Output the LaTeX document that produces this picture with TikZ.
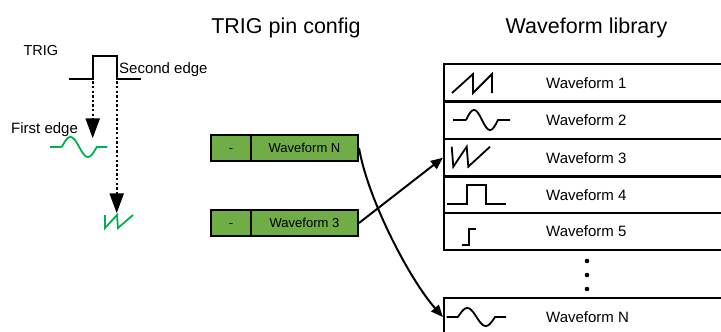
\documentclass[tikz,border=0pt]{standalone}
\usepackage{fontspec}
\setmainfont{Liberation Sans}
\usetikzlibrary{arrows.meta}
\definecolor{boxgreen}{RGB}{112,173,71}
\definecolor{wavegreen}{RGB}{0,176,80}
\tikzset{
  px/.style={x=1pt,y=-1pt},
  title/.style={font=\fontsize{21.5}{24}\selectfont, anchor=base, inner sep=0pt},
  small/.style={font=\fontsize{15}{18}\selectfont, anchor=base west, inner sep=0pt},
  libtext/.style={font=\fontsize{15}{18}\selectfont, anchor=base west, inner sep=0pt},
  boxtext/.style={font=\fontsize{13}{15}\selectfont},
  gcell/.style={draw=black, line width=2pt, fill=boxgreen, minimum height=26pt, inner sep=0pt, boxtext},
  librow/.style={draw=black, line width=2.2pt, minimum width=300pt, inner sep=0pt},
  icon/.style={draw=black, line width=1.8pt, line join=miter},
  gwave/.style={draw=wavegreen, line width=1.8pt},
  conn/.style={draw=black, line width=2pt, -{Triangle[length=12pt,width=10pt]}},
  dotconn/.style={draw=black, line width=2.4pt, dash pattern=on 2.4pt off 2.2pt, -{Triangle[length=20pt,width=14pt,sep=0pt]}},
}
\begin{document}
\begin{tikzpicture}[px]
\useasboundingbox (0,0) rectangle (721,332);
\clip (0,0) rectangle (721,332);

% titles
\node[title] (t1) at (286,33) {TRIG pin config};
\node[title] (t2) at (586.5,33) {Waveform library};

% TRIG signal
\node[small, font=\fontsize{14.5}{17}\selectfont] (trig) at (23.3,55) {TRIG};
\coordinate (p0) at (69,79.3);
\coordinate (e1) at (92.7,79.3);
\coordinate (e2) at (116.7,79.3);
\coordinate (p3) at (140.7,79.3);
\draw[line width=2.2pt] (p0) -- (e1) -- (92.7,56) -- (116.7,56) -- (e2) -- (p3);
\node[small] (second) at (119,73.3) {Second edge};
\node[small] (first) at (11,133.3) {First edge};
\coordinate (tip1) at (92.7,138.3);
\coordinate (tip2) at (116.7,213.3);
\draw[dotconn] ([yshift=-2pt]e1) -- (tip1);
\draw[dotconn] ([yshift=-2pt]e2) -- (tip2);

% green waves
\draw[gwave] (50,147) -- (61.7,147)
  plot[domain=0:1, samples=40, smooth] ({61.7+35*\x},{147-10*sin(360*\x)})
  -- (107.3,147);
\draw[gwave] (105,215) -- (105,228) -- (117,215) -- (118,228) -- (133,215);

% green boxes
\node[gcell, minimum width=40pt] (bNl) at (231,148) {\vphantom{W}-};
\node[gcell, minimum width=107pt] (bN) at (304.5,148) {Waveform N};
\node[gcell, minimum width=40pt] (b3l) at (231,223) {\vphantom{W}-};
\node[gcell, minimum width=107pt] (b3) at (304.5,223) {Waveform 3};

% library rows
\node[librow, minimum height=37.5pt] (r1) at (594,82.75) {};
\node[librow, minimum height=37.5pt] (r2) at (594,120.25) {};
\node[librow, minimum height=37.5pt] (r3) at (594,157.75) {};
\node[librow, minimum height=36.5pt] (r4) at (594,194.75) {};
\node[librow, minimum height=37pt] (r5) at (594,231.5) {};
\node[librow, minimum height=38pt] (rN) at (594,317) {};

\node[libtext] (l1) at (546,88.1) {Waveform 1};
\node[libtext] (l2) at (546,125.6) {Waveform 2};
\node[libtext] (l3) at (546,163.1) {Waveform 3};
\node[libtext] (l4) at (546,200.1) {Waveform 4};
\node[libtext] (l5) at (546,236.9) {Waveform 5};
\node[libtext] (lN) at (546,322.4) {Waveform N};

% icons
\draw[icon] (452,93) -- (473,74) -- (473,93) -- (492,74) -- (492,93);
\draw[icon] (453,120) -- (466,120)
  plot[domain=0:1, samples=40, smooth] ({466+32*\x},{120-10*sin(360*\x)})
  -- (510,120);
\draw[icon] (451.7,146.7) -- (453.3,166.7) -- (466.7,146.7) -- (468.3,166.7) -- (490,146.7);
\draw[icon] (446.7,204) -- (466.7,204) -- (466.7,185) -- (485.7,185) -- (485.7,204) -- (506,204);
\draw[icon] (461.7,245) -- (469.3,245) -- (469.3,229) -- (476,229);
\draw[icon] (446.7,317) -- (458,317)
  plot[domain=0:1, samples=40, smooth] ({458+37*\x},{317-9*sin(360*\x)})
  -- (506,317);

% dots
\fill (587,261) circle (2.3pt);
\fill (587,275) circle (2.3pt);
\fill (587,289) circle (2.3pt);

% connectors
\draw[conn] (b3.east) -- (r3.west);
\draw[conn] (bN.east) .. controls (368,200) and (410,280) .. (rN.west);
\end{tikzpicture}
\end{document}
